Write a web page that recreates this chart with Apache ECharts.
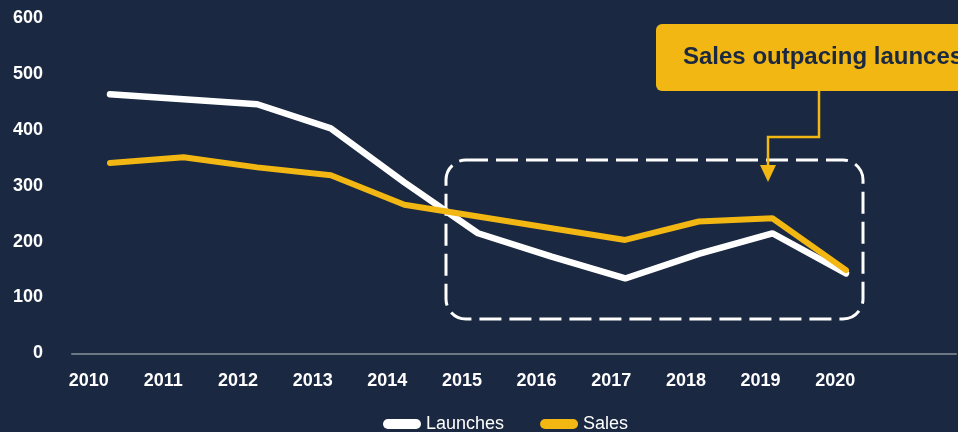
<!DOCTYPE html>
<html>
<head>
<meta charset="utf-8">
<script src="https://cdn.jsdelivr.net/npm/echarts@6/dist/echarts.min.js"></script>
<style>
  html, body { margin: 0; padding: 0; background: #1a2841; }
  #chart { width: 958px; height: 432px; }
</style>
</head>
<body>
<div id="chart"></div>
<script>
// Yearly figures
const years = [2010, 2011, 2012, 2013, 2014, 2015, 2016, 2017, 2018, 2019, 2020];
const launches = [464, 455, 446, 403, 306, 215, 173, 134, 178, 215, 143];
const sales = [341, 351, 333, 319, 266, 245, 224, 203, 236, 242, 149];
const yTicks = [0, 100, 200, 300, 400, 500, 600];
const calloutText = 'Sales outpacing launces';

const NAVY = '#1a2841';
const GOLD = '#f2b712';
const FONT = '"Liberation Sans", Arial, sans-serif';

const chart = echarts.init(document.getElementById('chart'), null, { renderer: 'canvas' });

const pill = 'path://M5,0 L33,0 A5,5 0 0 1 33,10 L5,10 A5,5 0 0 1 5,0 Z';

chart.setOption({
  backgroundColor: NAVY,
  animation: false,
  grid: { left: 72, right: 2, top: 18.3, bottom: 78.7 },
  xAxis: [
    {
      // data axis: carries the lines and the baseline
      type: 'value',
      min: 2009.4837,
      max: 2021.4946,
      axisLine: { show: true, lineStyle: { color: '#6c7784', width: 2 } },
      axisTick: { show: false },
      axisLabel: { show: false },
      splitLine: { show: false }
    },
    {
      // year labels
      type: 'value',
      position: 'bottom',
      min: 2009.7763,
      max: 2021.6182,
      axisLine: { show: false },
      axisTick: { show: false },
      splitLine: { show: false },
      axisLabel: {
        customValues: years,
        formatter: v => String(v),
        color: '#ffffff',
        fontFamily: FONT,
        fontWeight: 'bold',
        fontSize: 18,
        margin: 19
      }
    }
  ],
  yAxis: {
    type: 'value',
    min: yTicks[0],
    max: yTicks[yTicks.length - 1],
    interval: 100,
    axisLine: { show: false },
    axisTick: { show: false },
    splitLine: { show: false },
    axisLabel: {
      color: '#ffffff',
      fontFamily: FONT,
      fontWeight: 'bold',
      fontSize: 18,
      margin: 29
    }
  },
  legend: {
    left: 378,
    top: 410,
    itemWidth: 38,
    itemHeight: 10,
    itemGap: 36,
    textStyle: { color: '#ffffff', fontFamily: FONT, fontSize: 18 },
    data: [
      { name: 'Launches', icon: pill },
      { name: 'Sales', icon: pill }
    ]
  },
  series: [
    {
      name: 'Launches',
      type: 'line',
      xAxisIndex: 0,
      symbol: 'none',
      color: '#ffffff',
      lineStyle: { color: '#ffffff', width: 6.5, cap: 'round' },
      data: years.map((y, i) => [y, launches[i]]),
      z: 3
    },
    {
      name: 'Sales',
      type: 'line',
      xAxisIndex: 0,
      symbol: 'none',
      color: GOLD,
      lineStyle: { color: GOLD, width: 6, cap: 'round' },
      data: years.map((y, i) => [y, sales[i]]),
      z: 4
    }
  ],
  graphic: [
    {
      // dashed highlight around 2015-2020
      type: 'rect',
      z: 1,
      shape: { x: 446, y: 160, width: 417, height: 159, r: 20 },
      style: { fill: 'none', stroke: '#ffffff', lineWidth: 3, lineDash: [22, 8] }
    },
    {
      type: 'rect',
      z: 5,
      shape: { x: 656, y: 24, width: 330, height: 67, r: 6 },
      style: { fill: GOLD }
    },
    {
      type: 'text',
      z: 6,
      x: 683,
      y: 57,
      style: {
        text: calloutText,
        font: 'bold 24px ' + FONT,
        fill: NAVY,
        verticalAlign: 'middle'
      }
    },
    {
      type: 'polyline',
      z: 5,
      shape: { points: [[819, 91], [819, 137], [768, 137], [768, 167]] },
      style: { stroke: GOLD, lineWidth: 2.5, fill: 'none' }
    },
    {
      type: 'polygon',
      z: 5,
      shape: { points: [[760, 165], [776, 165], [768, 182]] },
      style: { fill: GOLD }
    }
  ]
});
</script>
</body>
</html>
